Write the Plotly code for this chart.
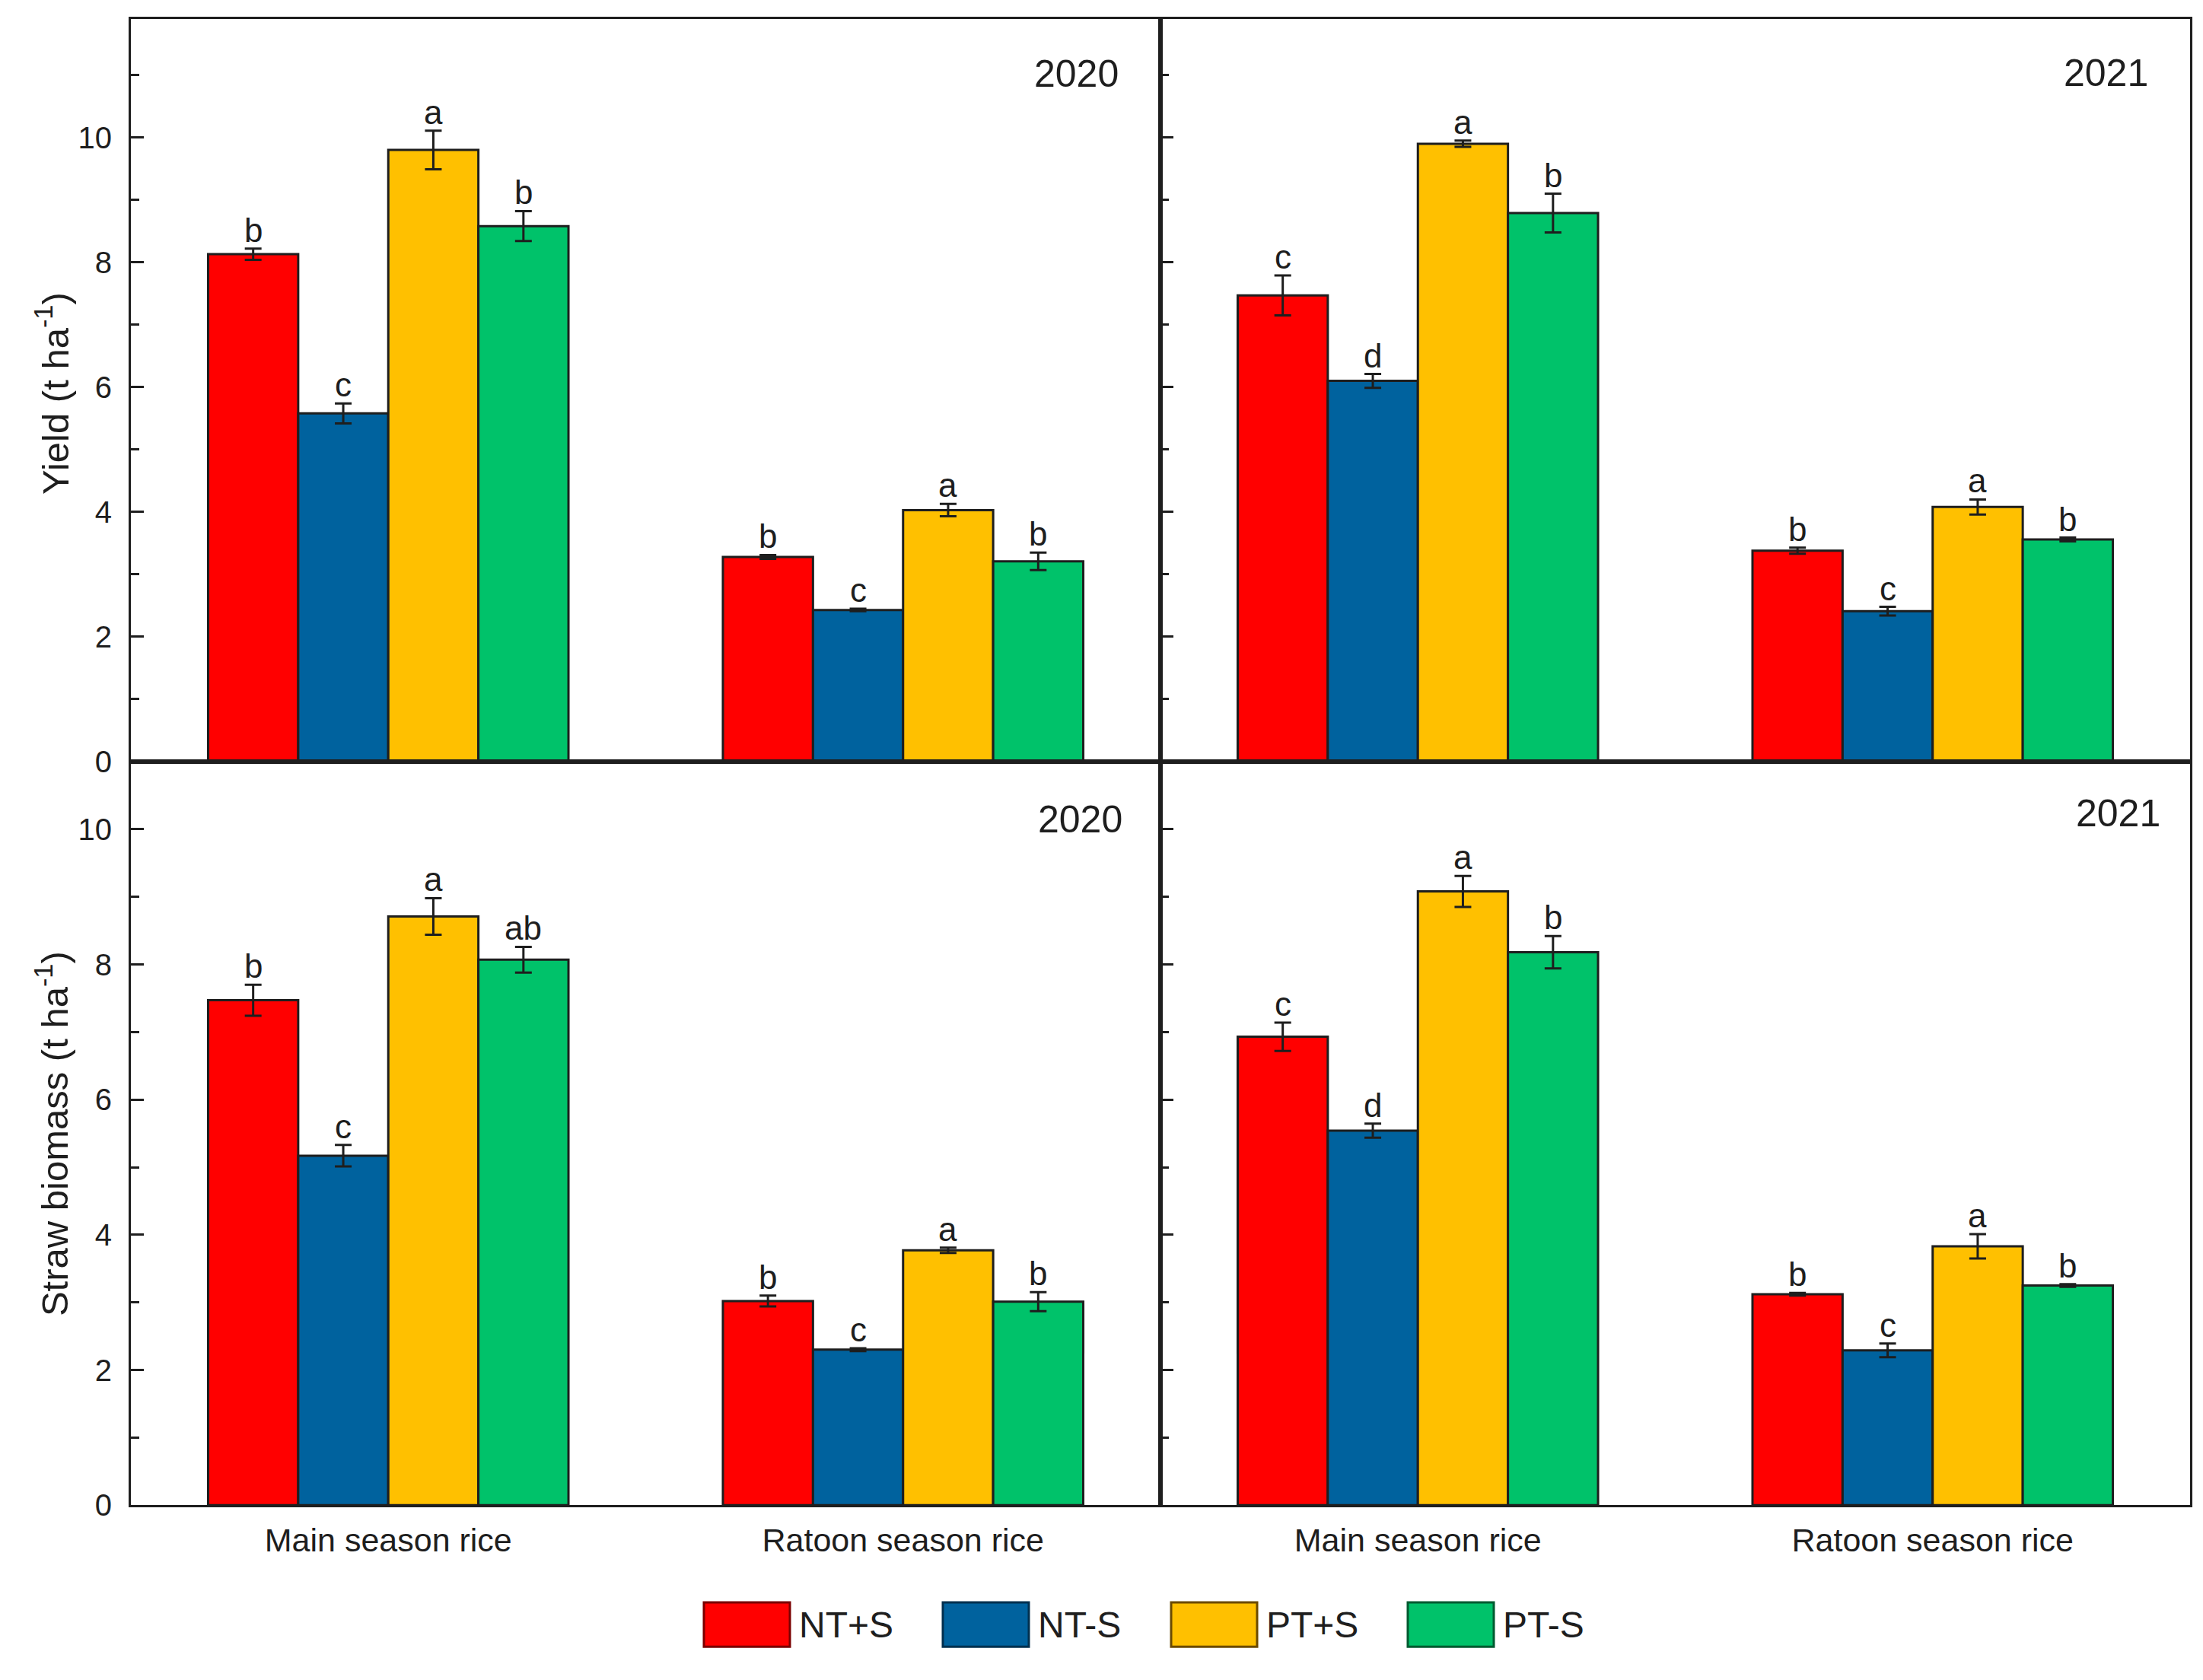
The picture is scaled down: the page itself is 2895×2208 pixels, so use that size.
import plotly.graph_objects as go

# ---------------- data ----------------
categories = ["Main season rice", "Ratoon season rice"]
treatments = ["NT+S", "NT-S", "PT+S", "PT-S"]
colors = ["#FF0000", "#00629E", "#FFC000", "#00C26A"]
legend_edge = ["#7a0000", "#00304f", "#6b4a00", "#005a30"]

# rows follow treatments, columns follow categories
yield_2020_mean = [[8.13, 3.28], [5.58, 2.43], [9.80, 4.03], [8.58, 3.21]]
yield_2020_err = [[0.09, 0.03], [0.16, 0.02], [0.31, 0.10], [0.24, 0.14]]
yield_2020_sig = [["b", "b"], ["c", "c"], ["a", "a"], ["b", "b"]]

yield_2021_mean = [[7.47, 3.38], [6.10, 2.41], [9.90, 4.08], [8.79, 3.56]]
yield_2021_err = [[0.32, 0.05], [0.11, 0.07], [0.05, 0.12], [0.31, 0.03]]
yield_2021_sig = [["c", "b"], ["d", "c"], ["a", "a"], ["b", "b"]]

straw_2020_mean = [[7.47, 3.02], [5.17, 2.30], [8.71, 3.77], [8.07, 3.01]]
straw_2020_err = [[0.23, 0.08], [0.16, 0.02], [0.27, 0.04], [0.19, 0.14]]
straw_2020_sig = [["b", "b"], ["c", "c"], ["a", "a"], ["ab", "b"]]

straw_2021_mean = [[6.93, 3.12], [5.54, 2.29], [9.08, 3.83], [8.18, 3.25]]
straw_2021_err = [[0.21, 0.02], [0.105, 0.10], [0.23, 0.18], [0.24, 0.02]]
straw_2021_sig = [["c", "b"], ["d", "c"], ["a", "a"], ["b", "b"]]

years = ["2020", "2021"]
y_titles = ["Yield (t ha<sup>-1</sup>)", "Straw biomass (t ha<sup>-1</sup>)"]

# ---------------- layout constants ----------------
W, H = 2895, 2208
FONT = "Liberation Sans, Arial, sans-serif"
INK = "#1e1e1e"
BARGAP = 0.3


def px(x):
    return x / W


def py(y):
    return 1 - y / H


panels = [
    # (means, errs, sigs, axis suffix, x-domain, y-domain, y-range, show x labels)
    (yield_2020_mean, yield_2020_err, yield_2020_sig, "", (px(164), px(1517)), (py(1003), py(17)), 11.9, False),
    (yield_2021_mean, yield_2021_err, yield_2021_sig, "2", (px(1517), px(2870)), (py(1003), py(17)), 11.9, False),
    (straw_2020_mean, straw_2020_err, straw_2020_sig, "3", (px(164), px(1517)), (py(1990), py(1003)), 11.0, True),
    (straw_2021_mean, straw_2021_err, straw_2021_sig, "4", (px(1517), px(2870)), (py(1990), py(1003)), 11.0, True),
]

fig = go.Figure()
annotations = []
layout_axes = {}

nT = len(treatments)
bar_w = (1 - BARGAP) / nT

for p_idx, (means, errs, sigs, suf, xdom, ydom, ymax, showx) in enumerate(panels):
    xa = "x" + suf
    ya = "y" + suf
    for t in range(nT):
        fig.add_trace(go.Bar(
            x=categories, y=means[t], name=treatments[t],
            xaxis=xa, yaxis=ya,
            marker=dict(color=colors[t], line=dict(color=INK, width=3)),
            error_y=dict(type="data", array=errs[t], visible=True,
                         color=INK, thickness=3, width=11),
            showlegend=False,
        ))
        for c in range(len(categories)):
            annotations.append(dict(
                x=c + (t - (nT - 1) / 2) * bar_w,
                y=means[t][c] + errs[t][c],
                xref=xa, yref=ya, text=sigs[t][c], showarrow=False,
                xanchor="center", yanchor="bottom", yshift=-2,
                font=dict(family=FONT, size=44, color=INK),
            ))
    left_col = suf in ("", "3")
    layout_axes["xaxis" + suf] = dict(
        domain=list(xdom), anchor=ya, type="category", range=[-0.5, 1.5],
        showline=True, mirror=True, linecolor=INK, linewidth=3,
        ticks="", showticklabels=showx, showgrid=False, zeroline=False,
        tickfont=dict(family=FONT, size=43, color=INK),
        ticklabelstandoff=6,
    )
    layout_axes["yaxis" + suf] = dict(
        domain=list(ydom), anchor=xa, range=[0, ymax],
        showline=True, mirror=True, linecolor=INK, linewidth=3,
        ticks="inside", ticklen=17, tickwidth=3, tickcolor=INK,
        dtick=2, tick0=0,
        minor=dict(dtick=1, ticks="inside", ticklen=11, tickwidth=3, tickcolor=INK, showgrid=False),
        showticklabels=left_col, showgrid=False, zeroline=False,
        tickfont=dict(family=FONT, size=40, color=INK),
        ticklabelstandoff=14,
    )

# year labels
year_pos = [(1464, 90, years[0]), (2817, 89, years[1]), (1469, 1080, years[0]), (2833, 1072, years[1])]
for xr, yc, txt in year_pos:
    annotations.append(dict(x=px(xr), y=py(yc), xref="paper", yref="paper", text=txt,
                            showarrow=False, xanchor="right", yanchor="middle",
                            font=dict(family=FONT, size=50, color=INK)))

# y-axis titles
for title, yc in zip(y_titles, [514, 1497]):
    annotations.append(dict(x=px(61), y=py(yc), xref="paper", yref="paper", text=title,
                            showarrow=False, textangle=-90, xanchor="center", yanchor="middle",
                            font=dict(family=FONT, size=49, color=INK)))

# manual legend
shapes = []
legend_x = [917, 1231, 1531, 1842]
sw_w, sw_top, sw_bot = 113, 2119, 2178
for t in range(nT):
    x0 = legend_x[t]
    shapes.append(dict(type="rect", xref="paper", yref="paper",
                       x0=px(x0), x1=px(x0 + sw_w), y0=py(sw_bot), y1=py(sw_top),
                       fillcolor=colors[t], line=dict(color=legend_edge[t], width=3)))
    annotations.append(dict(x=px(x0 + sw_w + 10), y=py((sw_top + sw_bot) / 2), xref="paper", yref="paper",
                            text=treatments[t], showarrow=False, xanchor="left", yanchor="middle",
                            font=dict(family=FONT, size=48, color=INK)))

fig.update_layout(
    width=W, height=H,
    margin=dict(l=0, r=0, t=0, b=0),
    paper_bgcolor="white", plot_bgcolor="white",
    barmode="group", bargap=BARGAP, bargroupgap=0,
    showlegend=False,
    annotations=annotations,
    shapes=shapes,
    font=dict(family=FONT, color=INK),
    **layout_axes,
)

fig.write_html("out.html")
